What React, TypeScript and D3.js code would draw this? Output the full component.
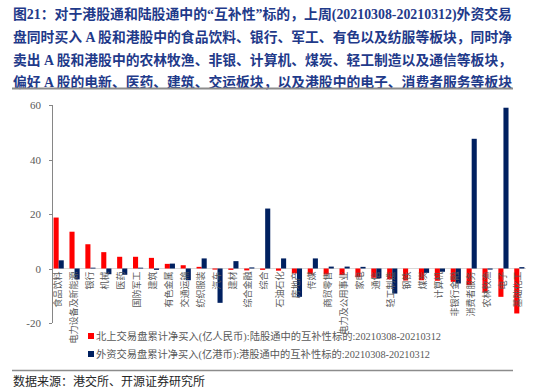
import React from "react";
import * as d3 from "d3";

const categories = ["食品饮料","电力设备及新能源","银行","机械","医药","国防军工","建筑","有色金属","交通运输","纺织服装","汽车","建材","综合金融","综合","石油石化","房地产","传媒","商贸零售","电力及公用事业","家电","通信","轻工制造","钢铁","煤炭","计算机","非银行金融","消费者服务","农林牧渔","电子","基础化工"];
const northbound = [18.7,13.5,8.9,6.0,4.3,4.3,3.9,1.7,1.2,0.6,-0.4,-0.5,-0.7,-0.5,-0.8,-1.8,-2.1,-2.2,-2.4,-3.2,-3.4,-4.0,-4.4,-4.3,-4.5,-4.9,-6.1,-8.8,-10.4,-16.5];
const southbound = [3.0,-4.0,0.3,-2.1,-2.3,0.3,-0.5,1.8,-4.3,3.7,-12.6,2.7,0.4,22.0,3.7,-10.4,3.7,0.7,0.7,0.6,-3.6,-9.2,0.0,-1.6,-1.2,-5.5,47.6,-0.4,59.0,0.5];
const yTicks = [-20,0,20,40,60];
const titleLines = [
  "图21：对于港股通和陆股通中的“互补性”标的，上周(20210308-20210312)外资交易",
  "盘同时买入 A 股和港股中的食品饮料、银行、军工、有色以及纺服等板块，同时净",
  "卖出 A 股和港股中的农林牧渔、非银、计算机、煤炭、轻工制造以及通信等板块，",
  "偏好 A 股的电新、医药、建筑、交运板块，以及港股中的电子、消费者服务等板块",
];
const legendLabels = [
  "北上交易盘累计净买入(亿人民币):陆股通中的互补性标的:20210308-20210312",
  "外资交易盘累计净买入(亿港币):港股通中的互补性标的:20210308-20210312",
];
const sourceText = "数据来源：港交所、开源证券研究所";

const RED = "#FF0000";
const NAVY = "#002060";
const GRAY = "#595959";

export default function App() {
  const x0 = 52, x1 = 526;
  const y = d3.scaleLinear().domain([-20, 60]).range([323, 105]);
  const x = d3.scaleBand<string>().domain(categories).range([x0, x1]).paddingInner(0.36).paddingOuter(0.1);
  const sub = d3.scaleBand<number>().domain([0, 1]).range([0, x.bandwidth()]);
  const series = [northbound, southbound];
  const colors = [RED, NAVY];
  const serif = "'Liberation Serif', 'Noto Sans CJK SC', serif";
  return (
    <svg width={550} height={392} style={{ position: "absolute", left: 0, top: 0, background: "#fff" }}>
      <rect width={550} height={392} fill="#fff" />
      {titleLines.map((t, i) => (
        <text key={i} x={13} y={19 + i * 22.8} fontSize={14} fontWeight="bold" fill="#1F3A8A"
          fontFamily={serif} textLength={499} lengthAdjust="spacingAndGlyphs">{t}</text>
      ))}
      <line x1={12} x2={513} y1={88.5} y2={88.5} stroke="#8C8C8C" strokeWidth={2} />
      {/* zero line */}
      <line x1={x0} x2={x1} y1={y(0)} y2={y(0)} stroke="#D9D9D9" strokeWidth={1} />
      {series.map((s, si) => s.map((v, i) => {
        const bx = (x(categories[i]) as number) + (sub(si) as number);
        return <rect key={si + "-" + i} x={bx} width={sub.bandwidth()} y={Math.min(y(v), y(0))}
          height={Math.abs(y(v) - y(0))} fill={colors[si]} />;
      }))}
      {/* y axis */}
      <line x1={x0 + 0.5} x2={x0 + 0.5} y1={y(60)} y2={y(-20)} stroke="#868686" strokeWidth={1} />
      {yTicks.map(t => (
        <g key={t}>
          <line x1={x0 - 3} x2={x0} y1={Math.round(y(t)) + 0.5} y2={Math.round(y(t)) + 0.5} stroke="#868686" />
          <text x={41} y={y(t) + 4} fontSize={11} fill={GRAY} textAnchor="end" fontFamily={serif}>{t}</text>
        </g>
      ))}
      {categories.map((c, i) => {
        const cx = (x(c) as number) + x.bandwidth() / 2 - 1;
        const cy = y(0) + 3;
        return (
          <text key={c} transform={`translate(${cx},${cy}) rotate(-90)`} fontSize={9} fill={GRAY}
            textAnchor="end" dy="0.35em" fontFamily="'Noto Sans CJK SC', sans-serif">{c}</text>
        );
      })}
      {legendLabels.map((l, i) => (
        <g key={i}>
          <rect x={88} y={333 + i * 18} width={6} height={6} fill={colors[i]} />
          <text x={96} y={339.5 + i * 18} fontSize={10} fill={GRAY} fontFamily={serif}
            textLength={i === 0 ? 345 : 334} lengthAdjust="spacingAndGlyphs">{l}</text>
        </g>
      ))}
      <line x1={12} x2={513} y1={370.5} y2={370.5} stroke="#8C8C8C" strokeWidth={1.5} />
      <text x={13} y={386} fontSize={12} fill="#262626" fontFamily={serif}>{sourceText}</text>
    </svg>
  );
}
